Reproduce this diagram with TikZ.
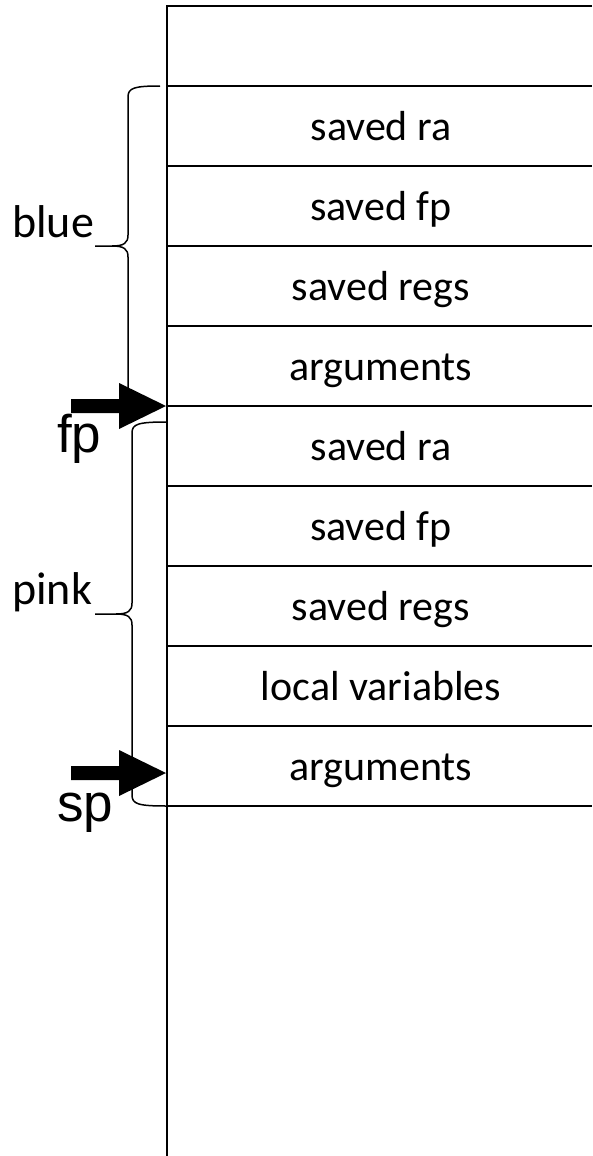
\documentclass[tikz,border=0pt]{standalone}
\usepackage{fontspec}
\setmainfont{Carlito}
\newfontfamily\arialfont{Liberation Sans}
\begin{document}
\begin{tikzpicture}[x=1pt,y=-1pt,
  cellline/.style={line width=2.3pt},
  bracestyle/.style={line width=1.5pt},
  celltext/.style={font=\fontsize{42}{42}\selectfont, anchor=base, inner sep=0pt},
  sidetext/.style={font=\fontsize{46}{46}\selectfont, anchor=base west, inner sep=0pt},
  ptrtext/.style={font=\arialfont\fontsize{53}{53}\selectfont, anchor=base west, inner sep=0pt}]
\useasboundingbox (0,0) rectangle (592,1156);
\fill[white] (0,0) rectangle (592,1156);
% stack frame lines
\draw[cellline] (592,6) -- (167,6) -- (167,1156);
\foreach \yy in {86,166,...,806} {\draw[cellline] (167,\yy) -- (592,\yy);}
% cell texts
\node[celltext] (c1) at (381,140) {saved ra};
\node[celltext] (c2) at (381,220) {saved fp};
\node[celltext] (c3) at (381,300) {saved regs};
\node[celltext] (c4) at (381,380) {arguments};
\node[celltext] (c5) at (381,460) {saved ra};
\node[celltext] (c6) at (381,540) {saved fp};
\node[celltext] (c7) at (381,620) {saved regs};
\node[celltext] (c8) at (381,700) {local variables};
\node[celltext] (c9) at (381,780) {arguments};
% braces
\draw[bracestyle] (160,86) .. controls (134,86) and (128,88) .. (128,97) -- (128,235)
  .. controls (128,243) and (124,246) .. (112,246) -- (95,246);
\draw[bracestyle] (112,246) .. controls (124,246) and (128,249) .. (128,257) -- (128,395)
  .. controls (128,404) and (134,406) .. (160,406);
\draw[bracestyle] (167,422) .. controls (138,422) and (132,424) .. (132,433) -- (132,603)
  .. controls (132,611) and (128,614) .. (116,614) -- (95,614);
\draw[bracestyle] (116,614) .. controls (128,614) and (132,617) .. (132,625) -- (132,795)
  .. controls (132,804) and (138,806) .. (167,806);
\node[sidetext] (blue) at (12,237) {blue};
\node[sidetext] (pink) at (12,604) {pink};
% pointers
\coordinate (fptip) at (166,406);
\coordinate (sptip) at (166,773);
\fill (fptip) -- ++(-47pt,-23pt) -- ++(0,16pt) -- ++(-48pt,0) -- ++(0,14pt) -- ++(48pt,0) -- ++(0,16pt) -- cycle;
\fill (sptip) -- ++(-47pt,-23pt) -- ++(0,16pt) -- ++(-48pt,0) -- ++(0,14pt) -- ++(48pt,0) -- ++(0,16pt) -- cycle;
\node[ptrtext] (fp) at (57,452) {fp};
\node[ptrtext] (sp) at (57,821) {sp};
\end{tikzpicture}
\end{document}
